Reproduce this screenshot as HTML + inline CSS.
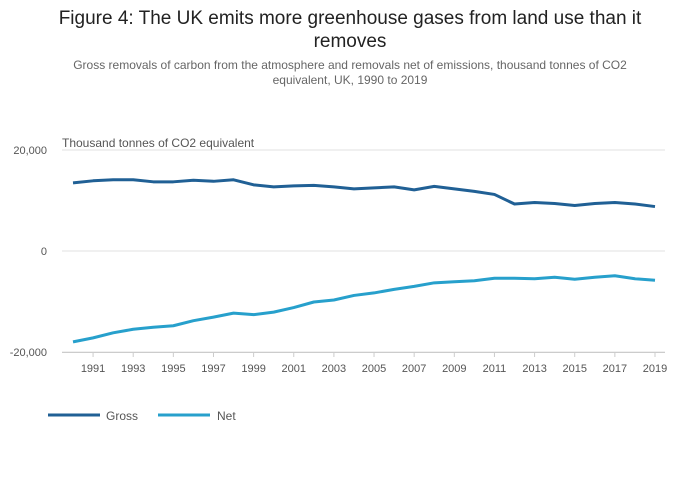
<!DOCTYPE html>
<html><head><meta charset="utf-8">
<style>
body{margin:0;background:#fff;font-family:"Liberation Sans",sans-serif;}
#wrap{position:relative;width:700px;height:502px;overflow:hidden;}
.t{position:absolute;left:0;width:700px;text-align:center;}
</style></head>
<body><div id="wrap">
<div class="t" style="top:7px;font-size:19px;color:#222;line-height:23px;">Figure 4: The UK emits more greenhouse gases from land use than it<br>removes</div>
<div class="t" style="top:58px;font-size:12px;color:#666;line-height:15px;">Gross removals of carbon from the atmosphere and removals net of emissions, thousand tonnes of CO2<br>equivalent, UK, 1990 to 2019</div>
<svg id="chart" width="700" height="502" style="position:absolute;left:0;top:0"></svg>
</div>
<script>
const years=[1990,1991,1992,1993,1994,1995,1996,1997,1998,1999,2000,2001,2002,2003,2004,2005,2006,2007,2008,2009,2010,2011,2012,2013,2014,2015,2016,2017,2018,2019];
const gross=[13500,13900,14100,14100,13700,13700,14000,13800,14100,13100,12700,12900,13000,12700,12300,12500,12700,12100,12800,12300,11800,11200,9300,9600,9400,9000,9400,9600,9300,8800];
const net=[-18000,-17200,-16200,-15500,-15100,-14800,-13800,-13100,-12300,-12600,-12100,-11200,-10100,-9700,-8800,-8300,-7600,-7000,-6300,-6100,-5900,-5400,-5400,-5500,-5200,-5600,-5200,-4900,-5500,-5800];
const yTicks=[20000,0,-20000];
const yTickLabels=["20,000","0","-20,000"];
const xTickYears=[1991,1993,1995,1997,1999,2001,2003,2005,2007,2009,2011,2013,2015,2017,2019];
const NS="http://www.w3.org/2000/svg";
const svg=document.getElementById('chart');
const X=y=>73+(y-1990)*(655-73)/29;
const Y=v=>251-v*101/20000;
function mk(t,a){const e=document.createElementNS(NS,t);for(const k in a)e.setAttribute(k,a[k]);svg.appendChild(e);return e;}
yTicks.forEach((v,i)=>{
 const g=mk('line',{x1:62,x2:665,y1:Y(v),y2:Y(v),stroke:'#e0e0e0','stroke-width':1});
 
 
 const t=mk('text',{x:47,y:Y(v)+4,'text-anchor':'end','font-size':11,fill:'#555','font-family':'Liberation Sans, sans-serif'});
 t.textContent=yTickLabels[i];
 
 
});
const yt=mk('text',{x:62,y:147,'font-size':12,fill:'#555','font-family':'Liberation Sans, sans-serif'});
yt.textContent='Thousand tonnes of CO2 equivalent';


const ax=mk('line',{x1:62,x2:665,y1:352.5,y2:352.5,stroke:'#ccc','stroke-width':1});


xTickYears.forEach(yr=>{
 const tk=mk('line',{x1:X(yr),x2:X(yr),y1:352,y2:357,stroke:'#ccc'});
 
 
 const t=mk('text',{x:X(yr),y:372,'text-anchor':'middle','font-size':11,fill:'#555','font-family':'Liberation Sans, sans-serif'});
 t.textContent=yr;
 
 
});
function series(vals,color,name){
 const p=mk('polyline',{points:vals.map((v,i)=>X(years[i])+','+Y(v)).join(' '),fill:'none',stroke:color,'stroke-width':3,'stroke-linejoin':'round'});
 
 
}
series(gross,'#206095','gross-line');
series(net,'#27a0cc','net-line');
[['Gross','#206095',48,106],['Net','#27a0cc',158,217]].forEach(([n,c,x0,tx])=>{
 const l=mk('line',{x1:x0,x2:x0+52,y1:415,y2:415,stroke:c,'stroke-width':3});
 
 
 const t=mk('text',{x:tx,y:420,'font-size':12,fill:'#555','font-family':'Liberation Sans, sans-serif'});
 t.textContent=n;
 
 
});
</script>
</body></html>
